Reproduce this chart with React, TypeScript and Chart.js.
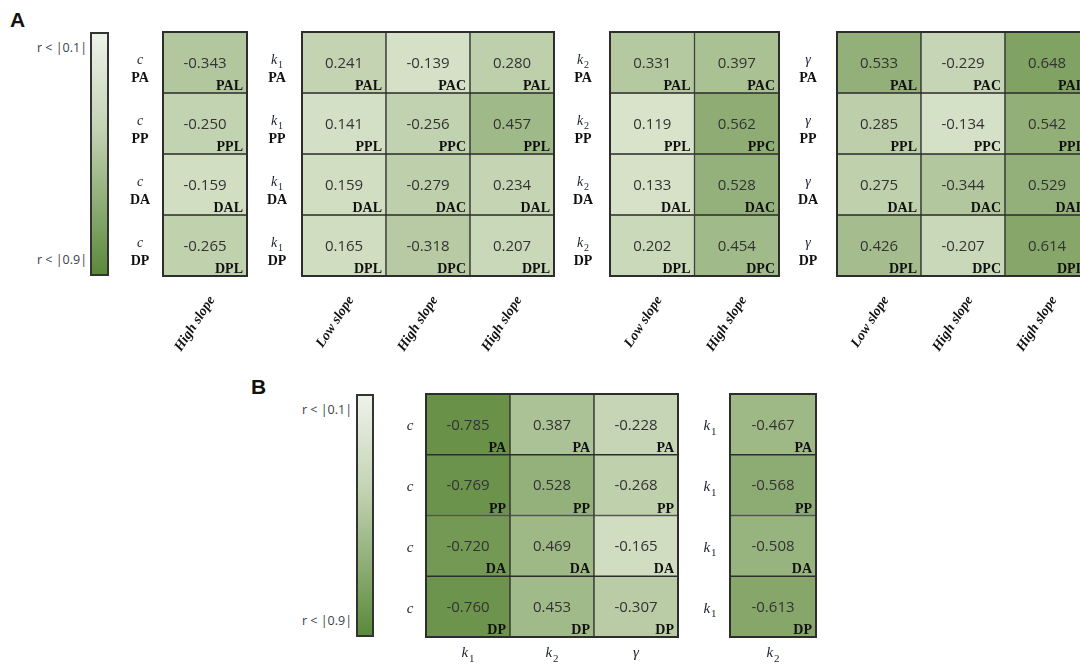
import React, { useEffect, useRef } from "react";
import { Chart, registerables } from "chart.js";
Chart.register(...registerables);

// ---------- data ----------
const ROWS = ["PA", "PP", "DA", "DP"];

const A1_PARAM = "c";
const A1_COLS = ["High slope"];
const A1_VALUES = [[-0.343], [-0.25], [-0.159], [-0.265]];
const A1_TAGS = [["PAL"], ["PPL"], ["DAL"], ["DPL"]];

const A2_PARAM = "k1";
const A2_COLS = ["Low slope", "High slope", "High slope"];
const A2_VALUES = [
  [0.241, -0.139, 0.28],
  [0.141, -0.256, 0.457],
  [0.159, -0.279, 0.234],
  [0.165, -0.318, 0.207],
];
const A2_TAGS = [
  ["PAL", "PAC", "PAL"],
  ["PPL", "PPC", "PPL"],
  ["DAL", "DAC", "DAL"],
  ["DPL", "DPC", "DPL"],
];

const A3_PARAM = "k2";
const A3_COLS = ["Low slope", "High slope"];
const A3_VALUES = [
  [0.331, 0.397],
  [0.119, 0.562],
  [0.133, 0.528],
  [0.202, 0.454],
];
const A3_TAGS = [
  ["PAL", "PAC"],
  ["PPL", "PPC"],
  ["DAL", "DAC"],
  ["DPL", "DPC"],
];

const A4_PARAM = "γ";
const A4_COLS = ["Low slope", "High slope", "High slope"];
const A4_VALUES = [
  [0.533, -0.229, 0.648],
  [0.285, -0.134, 0.542],
  [0.275, -0.344, 0.529],
  [0.426, -0.207, 0.614],
];
const A4_TAGS = [
  ["PAL", "PAC", "PAL"],
  ["PPL", "PPC", "PPL"],
  ["DAL", "DAC", "DAL"],
  ["DPL", "DPC", "DPL"],
];

const B1_PARAM = "c";
const B1_COLS = ["k1", "k2", "γ"];
const B1_VALUES = [
  [-0.785, 0.387, -0.228],
  [-0.769, 0.528, -0.268],
  [-0.72, 0.469, -0.165],
  [-0.76, 0.453, -0.307],
];
const B1_TAGS = [
  ["PA", "PA", "PA"],
  ["PP", "PP", "PP"],
  ["DA", "DA", "DA"],
  ["DP", "DP", "DP"],
];

const B2_PARAM = "k1";
const B2_COLS = ["k2"];
const B2_VALUES = [[-0.467], [-0.568], [-0.508], [-0.613]];
const B2_TAGS = [["PA"], ["PP"], ["DA"], ["DP"]];

const SCALE_LABELS = ["r < |0.1|", "r < |0.9|"];

// ---------- styling helpers ----------
const LOW = [219, 229, 206];
const HIGH = [86, 131, 50];
function cellColor(r: number) {
  const t = Math.min(1, Math.max(0, (Math.abs(r) - 0.1) / 0.8));
  const c = LOW.map((v, i) => Math.round(v + (HIGH[i] - v) * t));
  return `rgb(${c[0]},${c[1]},${c[2]})`;
}

const SERIF = '"Liberation Serif", "Times New Roman", serif';
const SANS = '"Open Sans", "DejaVu Sans", sans-serif';

function drawParam(ctx: CanvasRenderingContext2D, sym: string, x: number, y: number, size: number) {
  const base = sym[0];
  const sub = sym.slice(1);
  const subSize = Math.round(size * 0.72);
  ctx.font = `italic ${size}px ${SERIF}`;
  const w1 = ctx.measureText(base).width;
  let w2 = 0;
  if (sub) {
    ctx.font = `${subSize}px ${SERIF}`;
    w2 = ctx.measureText(sub).width + 1;
  }
  const start = x - (w1 + w2) / 2;
  ctx.textAlign = "left";
  ctx.textBaseline = "alphabetic";
  ctx.fillStyle = "#1d2230";
  ctx.font = `italic ${size}px ${SERIF}`;
  ctx.fillText(base, start, y);
  if (sub) {
    ctx.font = `${subSize}px ${SERIF}`;
    ctx.fillText(sub, start + w1 + 1, y + size * 0.3);
  }
}

type BlockProps = {
  gridLeft: number;
  gridTop: number;
  cellW: number;
  cellH: number;
  cols: string[];
  values: number[][];
  tags: string[][];
  param: string;
  panel: "A" | "B";
  labelOffset: number;
};

function HeatBlock(p: BlockProps) {
  const ref = useRef<HTMLCanvasElement | null>(null);
  const padL = 50;
  const padR = 4;
  const padT = 4;
  const padB = p.panel === "A" ? 92 : 34;
  const W = padL + p.cols.length * p.cellW + padR;
  const H = padT + ROWS.length * p.cellH + padB;

  useEffect(() => {
    if (!ref.current) return;
    const cellPlugin = {
      id: "cellText",
      afterDatasetsDraw(chart: any) {
        const ctx: CanvasRenderingContext2D = chart.ctx;
        const area = chart.chartArea;
        const yScale = chart.scales.y;
        const xScale = chart.scales.x;
        ctx.save();
        // outer frame
        ctx.strokeStyle = "#2d2d2d";
        ctx.lineWidth = 2;
        ctx.strokeRect(area.left, area.top, area.right - area.left, area.bottom - area.top);
        // cells
        p.values.forEach((row, d) => {
          const meta = chart.getDatasetMeta(d);
          meta.data.forEach((bar: any, c: number) => {
            const { x, y, base, width } = bar.getProps(["x", "y", "base", "width"], true);
            const top = Math.min(y, base);
            const bot = Math.max(y, base);
            ctx.fillStyle = "#333";
            ctx.font = `15px ${SANS}`;
            ctx.textAlign = "center";
            ctx.textBaseline = "middle";
            ctx.fillText(row[c].toFixed(3), x, (top + bot) / 2 + 1);
            ctx.fillStyle = "#111";
            ctx.font = `bold 14px ${SERIF}`;
            ctx.textAlign = "right";
            ctx.textBaseline = "alphabetic";
            ctx.fillText(p.tags[d][c], x + width / 2 - 4, bot - 3);
          });
          // row labels
          const cy = yScale.getPixelForValue(d + 0.5);
          const lx = area.left - p.labelOffset;
          if (p.panel === "A") {
            drawParam(ctx, p.param, lx, cy + 1, 14);
            ctx.fillStyle = "#111";
            ctx.font = `bold 14px ${SERIF}`;
            ctx.textAlign = "center";
            ctx.textBaseline = "alphabetic";
            ctx.fillText(ROWS[d], lx, cy + 19);
          } else {
            drawParam(ctx, p.param, lx, cy + 6, 15);
          }
        });
        // column math labels for panel B
        if (p.panel === "B") {
          p.cols.forEach((lab, i) => {
            drawParam(ctx, lab, xScale.getPixelForValue(i), area.bottom + 20, 15);
          });
        }
        ctx.restore();
      },
    };

    const chart = new Chart(ref.current, {
      type: "bar",
      data: {
        labels: p.cols,
        datasets: p.values.map((row, i) => ({
          label: ROWS[i],
          data: row.map(() => 1),
          backgroundColor: row.map(cellColor),
          borderColor: "#2d2d2d",
          borderWidth: 1,
          borderSkipped: false,
          barPercentage: 1,
          categoryPercentage: 1,
        })),
      },
      options: {
        responsive: false,
        animation: false,
        devicePixelRatio: 1,
        layout: {
          autoPadding: false,
          padding: { left: padL, right: padR, top: padT, bottom: 0 },
        },
        plugins: { legend: { display: false }, tooltip: { enabled: false } },
        scales: {
          x: {
            stacked: true,
            display: p.panel === "A",
            grid: { display: false },
            border: { display: false },
            ticks: {
              autoSkip: false,
              minRotation: 57,
              maxRotation: 57,
              padding: 9,
              labelOffset: 7,
              color: "#111",
              font: { family: SERIF, size: 14, weight: "bold", style: "italic" },
            },
            afterFit: (s: any) => {
              s.height = padB;
            },
          },
          y: { stacked: true, display: false, min: 0, max: 4, reverse: true },
        },
      } as any,
      plugins: [cellPlugin],
    });
    return () => chart.destroy();
  }, []);

  return (
    <canvas
      ref={ref}
      width={W}
      height={H}
      style={{ position: "absolute", left: p.gridLeft - padL, top: p.gridTop - padT, width: W, height: H }}
    />
  );
}

function ColorBar(props: { left: number; top: number; width: number; height: number; labelRight: number }) {
  const { left, top, width, height, labelRight } = props;
  const txt: React.CSSProperties = {
    position: "absolute",
    width: 80,
    left: labelRight - 80,
    textAlign: "right",
    fontFamily: SANS,
    fontSize: 12.5,
    color: "#3b3f4a",
    lineHeight: "16px",
    whiteSpace: "nowrap",
  };
  return (
    <>
      <div
        style={{
          position: "absolute",
          left,
          top,
          width,
          height,
          boxSizing: "border-box",
          border: "2px solid #333",
          background: "linear-gradient(to bottom, #eef2ea 0%, #c2d2b2 40%, #5b8a3b 100%)",
        }}
      />
      <div style={{ ...txt, top: top + 8 }}>{SCALE_LABELS[0]}</div>
      <div style={{ ...txt, top: top + height - 24 }}>{SCALE_LABELS[1]}</div>
    </>
  );
}

export default function App() {
  const letter: React.CSSProperties = {
    position: "absolute",
    fontFamily: '"Liberation Sans", Arial, sans-serif',
    fontWeight: "bold",
    fontSize: 21,
    lineHeight: "21px",
    color: "#111",
  };
  return (
    <div
      style={{
        position: "fixed",
        left: 0,
        top: 0,
        width: 1080,
        height: 664,
        overflow: "hidden",
        background: "#fff",
      }}
    >
      <div style={{ ...letter, left: 10, top: 9 }}>A</div>
      <div style={{ ...letter, left: 251, top: 376 }}>B</div>

      <ColorBar left={90} top={32} width={19} height={244} labelRight={87} />
      <ColorBar left={356} top={394} width={18} height={243} labelRight={352} />

      <HeatBlock gridLeft={163} gridTop={32} cellW={84} cellH={61} cols={A1_COLS} values={A1_VALUES} tags={A1_TAGS} param={A1_PARAM} panel="A" labelOffset={23} />
      <HeatBlock gridLeft={302} gridTop={32} cellW={84} cellH={61} cols={A2_COLS} values={A2_VALUES} tags={A2_TAGS} param={A2_PARAM} panel="A" labelOffset={25} />
      <HeatBlock gridLeft={610} gridTop={32} cellW={84.5} cellH={61} cols={A3_COLS} values={A3_VALUES} tags={A3_TAGS} param={A3_PARAM} panel="A" labelOffset={27} />
      <HeatBlock gridLeft={837} gridTop={32} cellW={84} cellH={61} cols={A4_COLS} values={A4_VALUES} tags={A4_TAGS} param={A4_PARAM} panel="A" labelOffset={29} />

      <HeatBlock gridLeft={426} gridTop={394} cellW={84} cellH={60.75} cols={B1_COLS} values={B1_VALUES} tags={B1_TAGS} param={B1_PARAM} panel="B" labelOffset={16} />
      <HeatBlock gridLeft={730} gridTop={394} cellW={86} cellH={60.75} cols={B2_COLS} values={B2_VALUES} tags={B2_TAGS} param={B2_PARAM} panel="B" labelOffset={20} />
    </div>
  );
}
